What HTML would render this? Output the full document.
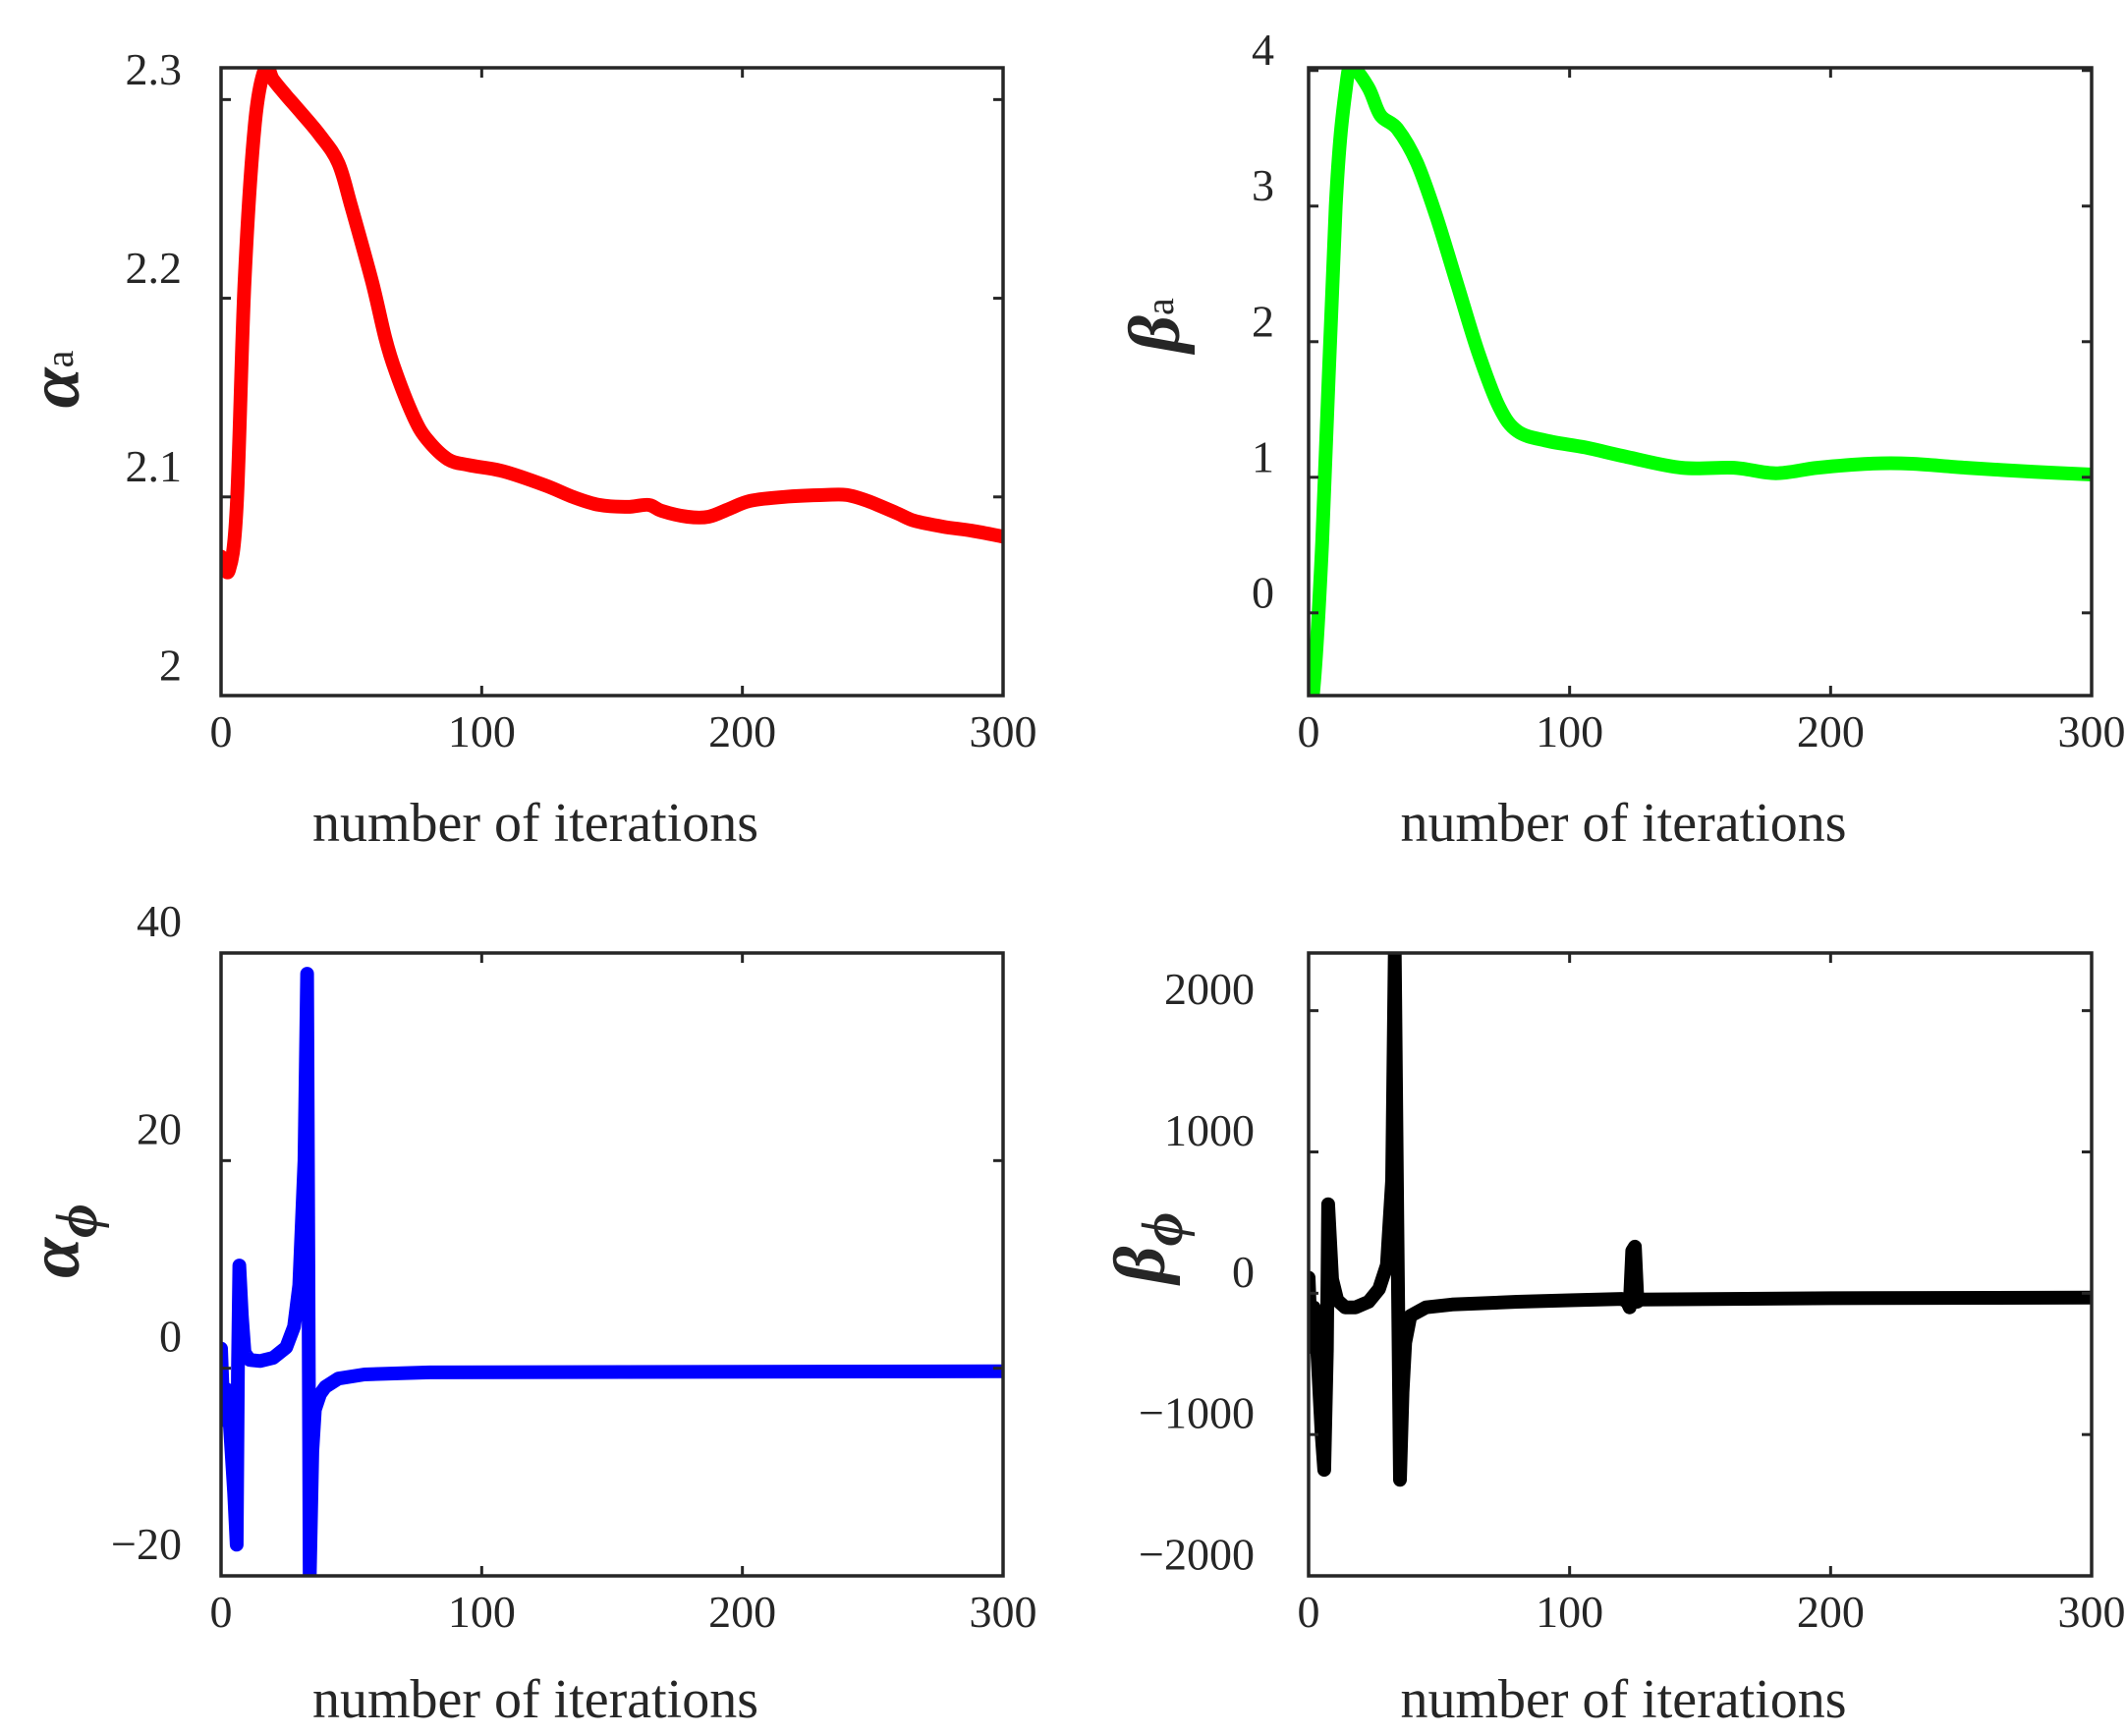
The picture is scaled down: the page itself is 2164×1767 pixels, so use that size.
<!DOCTYPE html>
<html><head><meta charset="utf-8"><style>
html,body{margin:0;padding:0;background:#fff;}
svg{display:block;}
text{font-family:"Liberation Serif",serif;fill:#262626;}
</style></head><body>
<svg id="fig" width="2164" height="1767" viewBox="0 0 2164 1767" xmlns="http://www.w3.org/2000/svg"></svg>
<script>
const alphaAIter=[0,3,6,9,13,17,20,25,29,38,45,50,58,63,67,74,79,87,95,108,124,135,145,156,164,169,179,187,195,203,216,232,240,248,259,266,277,288,300];
const alphaAVal=[2.070,2.063,2.095,2.208,2.288,2.316,2.31,2.302,2.296,2.282,2.268,2.246,2.208,2.18,2.163,2.14,2.129,2.119,2.116,2.113,2.106,2.100,2.096,2.095,2.096,2.093,2.090,2.090,2.094,2.098,2.100,2.101,2.101,2.098,2.092,2.088,2.085,2.083,2.080];
const betaAIter=[0,1.6,5.2,10.4,14.5,17,23,27.5,34,41.5,49,57,65,73,80,91,106,122,143,163,179,195,215,231,252,278,300];
const betaAVal=[-0.48,-0.61,0.52,3.0,3.9,4.02,3.87,3.67,3.57,3.32,2.92,2.42,1.92,1.52,1.34,1.27,1.22,1.15,1.07,1.07,1.03,1.07,1.1,1.1,1.07,1.04,1.02];
const alphaPIter=[0,1,2,3,5,6,6.5,7,8,9,11,15,20,25,28,30,32,33,33.5,34,35,36,38,40,45,55,80,300];
const alphaPVal=[1.9,-5,-2,-4,-12,-17,0,9.9,5,1.5,0.8,0.7,1,2,4,8,20,38,10,-20.5,-8,-4,-2.5,-1.8,-1,-0.6,-0.4,-0.3];
const betaPIter=[0,1,2,3,5,6,7,7.5,9,11,14,18,23,27,30,32,33,34,35,36,37,39,45,55,80,100,120,122,123,124,125,126,127,200,300];
const betaPVal=[110,-380,-100,-300,-1000,-1250,-400,630,100,-50,-100,-100,-60,30,200,800,2400,500,-1320,-700,-350,-160,-100,-80,-60,-50,-40,-60,-100,300,330,-60,-45,-35,-30];
const xTicks=[0,100,200,300];
const yTicksAA=[2,2.1,2.2,2.3], yLabAA=['2','2.1','2.2','2.3'];
const yTicksBA=[0,1,2,3,4], yLabBA=['0','1','2','3','4'];
const yTicksAP=[-20,0,20,40], yLabAP=['\u221220','0','20','40'];
const yTicksBP=[-2000,-1000,0,1000,2000], yLabBP=['\u22122000','\u22121000','0','1000','2000'];

const NS='http://www.w3.org/2000/svg';
const svg=document.getElementById('fig');
function mk(tag,attrs,parent){const e=document.createElementNS(NS,tag);for(const k in attrs)e.setAttribute(k,attrs[k]);(parent||svg).appendChild(e);return e;}

function pathFor(P,smooth){
  let d='M'+P[0][0].toFixed(1)+' '+P[0][1].toFixed(1);
  for(let i=0;i<P.length-1;i++){
    if(!smooth){d+='L'+P[i+1][0].toFixed(1)+' '+P[i+1][1].toFixed(1);continue;}
    const p0=P[Math.max(0,i-1)],p1=P[i],p2=P[i+1],p3=P[Math.min(P.length-1,i+2)];
    const c1=[p1[0]+(p2[0]-p0[0])/6,p1[1]+(p2[1]-p0[1])/6];
    const c2=[p2[0]-(p3[0]-p1[0])/6,p2[1]-(p3[1]-p1[1])/6];
    d+='C'+c1[0].toFixed(1)+' '+c1[1].toFixed(1)+' '+c2[0].toFixed(1)+' '+c2[1].toFixed(1)+' '+p2[0].toFixed(1)+' '+p2[1].toFixed(1);
  }
  return d;
}

function panel(o){
  const g=mk('g',{});
  
  
  const sx=v=>o.L+(v-0)/(300)*(o.R-o.L);
  const sy=v=>o.B-(v-o.ymin)/(o.ymax-o.ymin)*(o.B-o.T);
  const clip=mk('clipPath',{id:'c'+o.name},g);
  mk('rect',{x:o.L,y:o.T,width:o.R-o.L,height:o.B-o.T},clip);
  const P=o.xs.map((x,i)=>[sx(x),sy(o.ys[i])]);
  const p=mk('path',{d:pathFor(P,o.smooth),fill:'none',stroke:o.color,'stroke-width':14,'stroke-linejoin':'round','stroke-linecap':'round','clip-path':'url(#c'+o.name+')'},g);
  
  
  const f=mk('rect',{x:o.L,y:o.T,width:o.R-o.L,height:o.B-o.T,fill:'none',stroke:'#262626','stroke-width':3.5},g);
  
  
  xTicks.forEach(t=>{
    const x=sx(t);
    mk('line',{x1:x,y1:o.B,x2:x,y2:o.B-10,stroke:'#262626','stroke-width':3},g);
    mk('line',{x1:x,y1:o.T,x2:x,y2:o.T+10,stroke:'#262626','stroke-width':3},g);
    const tx=mk('text',{x:x,y:o.B+52,'font-size':46,'text-anchor':'middle'},g);
    tx.textContent=t;
    
    
  });
  const step=sy(o.yt[0])-sy(o.yt[1]);
  o.yt.forEach((t,i)=>{
    const y=sy(t);
    mk('line',{x1:o.L,y1:y,x2:o.L+10,y2:y,stroke:'#262626','stroke-width':3},g);
    mk('line',{x1:o.R,y1:y,x2:o.R-10,y2:y,stroke:'#262626','stroke-width':3},g);
    const tx=mk('text',{x:o.L-o.lgap,y:y-0.156*step+16,'font-size':46,'text-anchor':'end'},g);
    tx.textContent=o.yl[i];
    
    
  });
  const xt=mk('text',{x:(o.L+o.R)/2-78,y:o.xtY,'font-size':56,'text-anchor':'middle'},g);
  xt.textContent='number of iterations';
  
  
  const yt=mk('text',{x:0,y:0,'font-size':74,'font-weight':'bold','font-style':'italic','text-anchor':'middle',transform:'translate('+o.ytx+','+o.yty+') rotate(-90)'},g);
  
  
  const t1=mk('tspan',{},yt);t1.textContent=o.sym;
  const t2=mk('tspan',{'font-size':o.subBig?60:40,'font-weight':o.subBig?'bold':'normal','font-style':o.subBig?'italic':'normal',dy:o.subBig?18:-6},yt);t2.textContent=o.sub;
}
panel({name:'alpha-a-panel',L:225,R:1021,T:69,B:708,ymin:2.0,ymax:2.316,xs:alphaAIter,ys:alphaAVal,color:'#ff0000',yt:yTicksAA,yl:yLabAA,lgap:40,xtY:856,ytx:80,yty:386,sym:'α',sub:'a',smooth:true});
panel({name:'beta-a-panel',L:1332,R:2129,T:69,B:708,ymin:-0.61,ymax:4.02,xs:betaAIter,ys:betaAVal,color:'#00ff00',yt:yTicksBA,yl:yLabBA,lgap:35,xtY:856,ytx:1200,yty:331,sym:'β',sub:'a',smooth:true});
panel({name:'alpha-phi-panel',L:225,R:1021,T:970,B:1604,ymin:-20,ymax:40,xs:alphaPIter,ys:alphaPVal,color:'#0000ff',yt:yTicksAP,yl:yLabAP,lgap:40,xtY:1748,ytx:80,yty:1263,sym:'α',sub:'ϕ',subBig:true,smooth:false});
panel({name:'beta-phi-panel',L:1332,R:2129,T:970,B:1604,ymin:-2000,ymax:2408,xs:betaPIter,ys:betaPVal,color:'#000000',yt:yTicksBP,yl:yLabBP,lgap:55,xtY:1748,ytx:1185,yty:1270,sym:'β',sub:'ϕ',subBig:true,smooth:false});
</script>
</body></html>
